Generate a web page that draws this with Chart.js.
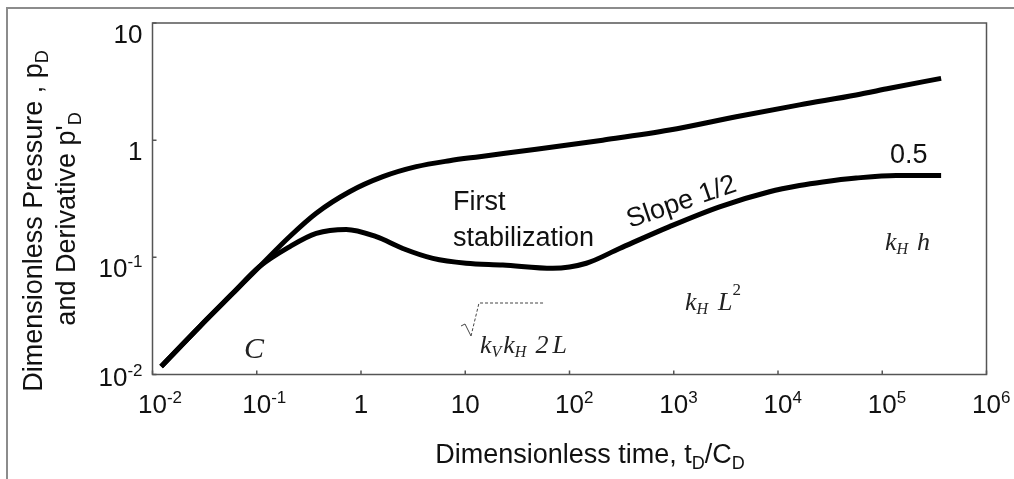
<!DOCTYPE html>
<html>
<head>
<meta charset="utf-8">
<title>Dimensionless pressure and derivative</title>
<script src="https://cdn.jsdelivr.net/npm/chart.js@4.4.1/dist/chart.umd.min.js"></script>
<style>
  html, body { margin: 0; padding: 0; background: #fff; }
  #wrap { width: 1014px; height: 479px; }
</style>
</head>
<body>
<div id="wrap"><canvas id="typeCurve" width="1014" height="479"></canvas></div>
<script>
// Log-log type curve: pressure p_D and its derivative p'_D against t_D/C_D

const pressureTime  = [0.0121, 0.0283, 0.0589, 0.106, 0.206, 0.372, 0.776, 1.62, 3.39, 7.06, 13.7, 48, 208, 910, 3970, 16070, 56200, 117500, 367000];
const pressureValue = [0.0117, 0.0256, 0.0493, 0.0832, 0.150, 0.238, 0.363, 0.488, 0.594, 0.668, 0.723, 0.836, 1.0, 1.22, 1.585, 2.0, 2.43, 2.77, 3.37];

const derivTime  = [0.0121, 0.0283, 0.0589, 0.106, 0.206, 0.372, 0.721, 1.40, 2.52, 4.89, 10.2, 22.9, 69.2, 145, 302, 910, 2750, 8280, 16070, 26900, 56200, 136000, 367000];
const derivValue = [0.0117, 0.0256, 0.0493, 0.0832, 0.123, 0.160, 0.173, 0.150, 0.119, 0.098, 0.089, 0.086, 0.0806, 0.089, 0.119, 0.183, 0.270, 0.363, 0.41, 0.44, 0.475, 0.5, 0.5];

const xTicks = [1e-2, 1e-1, 1, 10, 1e2, 1e3, 1e4, 1e5, 1e6];
const xTickLabels = [["10", "-2"], ["10", "-1"], ["1", ""], ["10", ""], ["10", "2"], ["10", "3"], ["10", "4"], ["10", "5"], ["10", "6"]];
const yTicks = [1e-2, 1e-1, 1, 10];
const yTickLabels = [["10", "-2"], ["10", "-1"], ["1", ""], ["10", ""]];

const SANS = '"Liberation Sans", Arial, Helvetica, sans-serif';
const SERIF = '"Liberation Serif", "Times New Roman", serif';

const toPoints = (xs, ys) => xs.map((x, i) => ({ x, y: ys[i] }));

// draw a run of text pieces (sub/superscripts) one after another
function drawRuns(ctx, parts, x, y, align) {
  let total = 0;
  parts.forEach(p => {
    ctx.font = p.f;
    p.w = ctx.measureText(p.t).width;
    total += p.w + (p.gap || 0);
  });
  let cx = align === "center" ? x - total / 2 : align === "right" ? x - total : x;
  ctx.textAlign = "left";
  ctx.textBaseline = "alphabetic";
  parts.forEach(p => {
    ctx.font = p.f;
    ctx.fillText(p.t, cx, y + (p.dy || 0));
    cx += p.w + (p.gap || 0);
  });
}

const decor = {
  id: "decor",
  beforeDraw(chart) {
    const ctx = chart.ctx;
    ctx.save();
    // page frame
    ctx.strokeStyle = "#8c8c8c";
    ctx.lineWidth = 2;
    ctx.beginPath();
    ctx.moveTo(7, 479);
    ctx.lineTo(7, 8);
    ctx.lineTo(1014, 8);
    ctx.stroke();
    ctx.restore();
  },
  afterDraw(chart) {
    const ctx = chart.ctx;
    const a = chart.chartArea;
    const xs = chart.scales.x, ys = chart.scales.y;
    ctx.save();

    // plot box and inward decade ticks
    ctx.strokeStyle = "#555";
    ctx.lineWidth = 1.5;
    ctx.strokeRect(a.left, a.top, a.right - a.left, a.bottom - a.top);
    ctx.beginPath();
    xTicks.forEach(v => {
      const px = xs.getPixelForValue(v);
      ctx.moveTo(px, a.bottom);
      ctx.lineTo(px, a.bottom - 4);
    });
    yTicks.forEach(v => {
      const py = ys.getPixelForValue(v);
      ctx.moveTo(a.left, py);
      ctx.lineTo(a.left + 4, py);
    });
    ctx.stroke();

    ctx.fillStyle = "#111";
    const tickFont = `26px ${SANS}`;
    const supFont = `17px ${SANS}`;

    // x tick labels: base centred on the tick, exponent to its right
    xTicks.forEach((v, i) => {
      const px = xs.getPixelForValue(v);
      const [base, sup] = xTickLabels[i];
      const by = a.bottom + 38.5;
      ctx.font = tickFont;
      const w = ctx.measureText(base).width;
      ctx.textAlign = "left";
      ctx.fillText(base, px - w / 2, by);
      if (sup) {
        ctx.font = supFont;
        ctx.fillText(sup, px + w / 2, by - 10);
      }
    });

    // y tick labels, right aligned against the axis
    yTicks.forEach((v, i) => {
      const py = ys.getPixelForValue(v);
      const [base, sup] = yTickLabels[i];
      const by = Math.min(py + 20, a.bottom + 11);
      const parts = [{ t: base, f: tickFont }];
      if (sup) parts.push({ t: sup, f: supFont, dy: -10 });
      drawRuns(ctx, parts, a.left - 10, by, "right");
    });

    // axis titles
    const titleFont = `27px ${SANS}`;
    const subFont = `18px ${SANS}`;
    drawRuns(ctx, [
      { t: "Dimensionless time, t", f: titleFont },
      { t: "D", f: subFont, dy: 6 },
      { t: "/C", f: titleFont },
      { t: "D", f: subFont, dy: 6 }
    ], 590, 463, "center");

    ctx.save();
    ctx.translate(42, 221);
    ctx.rotate(-Math.PI / 2);
    drawRuns(ctx, [
      { t: "Dimensionless Pressure , p", f: titleFont },
      { t: "D", f: subFont, dy: 6 }
    ], 0, 0, "center");
    ctx.restore();

    ctx.save();
    ctx.translate(75, 219);
    ctx.rotate(-Math.PI / 2);
    drawRuns(ctx, [
      { t: "and Derivative p", f: titleFont },
      { t: "'", f: titleFont },
      { t: "D", f: subFont, dy: 6 }
    ], 0, 0, "center");
    ctx.restore();

    // flow-regime notes
    const noteFont = `27px ${SANS}`;
    ctx.font = noteFont;
    ctx.textAlign = "left";
    ctx.fillText("First", 453, 210);
    ctx.fillText("stabilization", 453, 246);
    ctx.fillText("0.5", 890, 163);

    ctx.save();
    ctx.translate(630, 228);
    ctx.rotate(-19 * Math.PI / 180);
    ctx.font = noteFont;
    ctx.fillText("Slope 1/2", 0, 0);
    ctx.restore();

    const it = `italic 26px ${SERIF}`;
    const itSub = `italic 16px ${SERIF}`;
    ctx.fillStyle = "#222";
    ctx.font = `italic 30px ${SERIF}`;
    ctx.fillText("C", 244, 358);

    drawRuns(ctx, [
      { t: "k", f: it },
      { t: "V", f: itSub, dy: 4, gap: 2 },
      { t: "k", f: it },
      { t: "H", f: itSub, dy: 4, gap: 9 },
      { t: "2", f: it, gap: 4 },
      { t: "L", f: it }
    ], 480, 353, "left");

    drawRuns(ctx, [
      { t: "k", f: it },
      { t: "H", f: itSub, dy: 4, gap: 10 },
      { t: "L", f: it },
      { t: "2", f: `17px ${SERIF}`, dy: -15 }
    ], 685, 310, "left");

    drawRuns(ctx, [
      { t: "k", f: it },
      { t: "H", f: itSub, dy: 4, gap: 9 },
      { t: "h", f: it }
    ], 885, 250, "left");

    // radical sign over kV kH
    ctx.strokeStyle = "#444";
    ctx.lineWidth = 1;
    ctx.beginPath();
    ctx.moveTo(461, 326);
    ctx.lineTo(465, 324);
    ctx.lineTo(471, 336);
    ctx.stroke();
    ctx.setLineDash([3, 2]);
    ctx.beginPath();
    ctx.moveTo(471, 336);
    ctx.lineTo(479, 303);
    ctx.lineTo(544, 303);
    ctx.stroke();
    ctx.setLineDash([]);

    ctx.restore();
  }
};

const lineStyle = {
  borderColor: "#000",
  borderWidth: 5,
  pointRadius: 0,
  fill: false,
  cubicInterpolationMode: "monotone",
  borderCapStyle: "butt",
  borderJoinStyle: "round"
};

new Chart(document.getElementById("typeCurve"), {
  type: "line",
  data: {
    datasets: [
      { label: "p_D", data: toPoints(pressureTime, pressureValue), ...lineStyle },
      { label: "p'_D", data: toPoints(derivTime, derivValue), ...lineStyle }
    ]
  },
  options: {
    responsive: false,
    animation: false,
    devicePixelRatio: 1,
    layout: { padding: { left: 152.5, right: 27.5, top: 23, bottom: 104.5 } },
    scales: {
      x: { type: "logarithmic", min: 1e-2, max: 1e6, display: false },
      y: { type: "logarithmic", min: 1e-2, max: 10, display: false }
    },
    plugins: {
      legend: { display: false },
      tooltip: { enabled: false }
    }
  },
  plugins: [decor]
});
</script>
</body>
</html>
